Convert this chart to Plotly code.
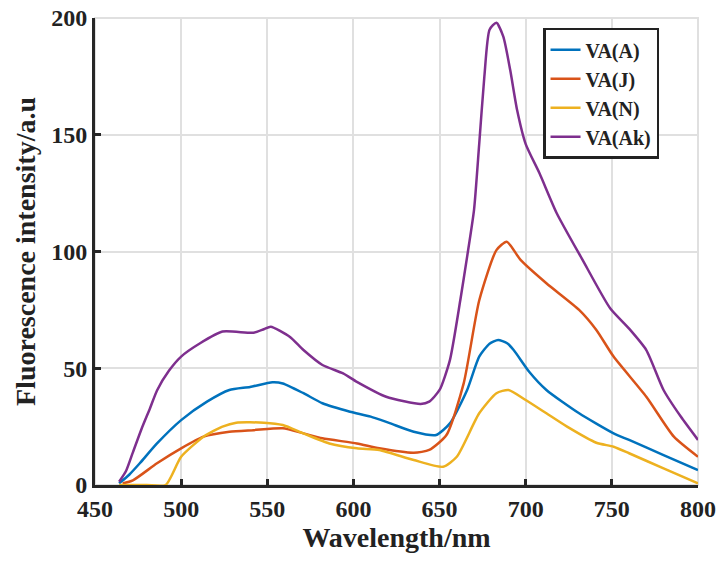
import plotly.graph_objects as go

# Wavelength (nm) / intensity (a.u.)
wl_A = [464, 470, 476, 486, 500, 515, 528, 540, 553, 559, 571, 582, 598, 610, 621, 635, 648, 656, 666, 673, 679, 684, 689, 693, 702, 712, 731, 751, 760, 780, 800]
va_A = [0.7, 4.5, 9.3, 17.8, 27.8, 35.7, 40.7, 42.0, 44.0, 43.5, 39.3, 35.0, 31.4, 29.3, 26.5, 22.8, 21.4, 26.4, 40.7, 55.0, 60.5, 62.1, 60.8, 57.8, 48.5, 40.7, 30.7, 22.1, 19.3, 12.8, 6.4]

wl_J = [466, 472, 486, 500, 513, 528, 542, 559, 571, 582, 602, 615, 635, 644, 654, 664, 673, 683, 689, 697, 712, 731, 741, 751, 770, 786, 800]
va_J = [0.7, 2.0, 9.3, 15.7, 20.7, 22.8, 23.5, 24.3, 22.1, 20.0, 17.8, 15.7, 13.8, 15.0, 21.4, 43.5, 79.0, 100.6, 104.2, 96.4, 86.4, 75.0, 66.4, 55.0, 37.8, 20.7, 12.1]

wl_N = [464, 480, 491, 500, 513, 524, 532, 548, 559, 571, 586, 602, 615, 635, 652, 660, 673, 683, 690, 700, 712, 724, 741, 751, 760, 780, 800]
va_N = [0.0, 0.0, 0.0, 12.1, 20.7, 25.0, 26.7, 26.7, 25.7, 22.1, 17.8, 15.7, 15.0, 10.7, 7.8, 12.1, 30.7, 39.3, 40.7, 36.4, 30.7, 25.0, 18.1, 16.4, 13.6, 7.1, 0.7]

wl_Ak = [464, 468, 472, 477, 482, 486, 493, 500, 511, 524, 542, 548, 552, 563, 571, 582, 594, 602, 619, 639, 644, 650, 656, 662, 666, 670, 673, 676, 679, 683, 687, 691, 695, 700, 708, 718, 733, 749, 760, 770, 780, 790, 800]
va_Ak = [1.4, 6.0, 14.0, 24.0, 33.0, 40.5, 49.0, 55.0, 60.7, 65.7, 65.2, 66.7, 67.8, 63.5, 57.8, 51.4, 47.8, 44.2, 37.8, 34.7, 35.7, 40.7, 53.5, 79.0, 97.8, 117.8, 146.0, 175.0, 195.0, 198.0, 192.0, 177.7, 160.6, 146.0, 133.5, 116.4, 96.4, 75.7, 67.0, 57.8, 40.7, 29.3, 19.3]

names = ["VA(A)", "VA(J)", "VA(N)", "VA(Ak)"]
colors = ["#0072BD", "#D95319", "#EDB120", "#7E2F8E"]
xticks = [450, 500, 550, 600, 650, 700, 750, 800]
yticks = [0, 50, 100, 150, 200]

fig = go.Figure()
for x, y, n, c in zip([wl_A, wl_J, wl_N, wl_Ak], [va_A, va_J, va_N, va_Ak], names, colors):
    fig.add_trace(go.Scatter(x=x, y=y, mode="lines", name=n,
                             line=dict(color=c, width=2.5, shape="spline", smoothing=0.6)))

font_family = "Liberation Serif, Times New Roman, serif"
txt = "#222222"
fig.update_layout(
    width=723, height=565,
    margin=dict(l=95, r=25, t=18, b=80, autoexpand=False),
    paper_bgcolor="white", plot_bgcolor="white",
    font=dict(family=font_family, color=txt),
    showlegend=True,
    legend=dict(x=0.743, y=0.979, xanchor="left", yanchor="top",
                bordercolor="#222222", borderwidth=2.5, bgcolor="white",
                font=dict(family=font_family, size=20, color=txt, weight="bold"),
                tracegroupgap=0, entrywidth=110, entrywidthmode="pixels"),
)
fig.update_xaxes(range=[450, 800], tickvals=xticks, ticktext=[str(v) for v in xticks],
                 automargin=False,
                 showgrid=True, gridcolor="#E0E0E0", gridwidth=2,
                 showline=True, linecolor="#262626", linewidth=3,
                 ticks="inside", ticklen=6, tickwidth=2.5, tickcolor="#262626",
                 tickfont=dict(size=24, weight="bold", family=font_family, color=txt),
                 title=dict(text="Wavelength/nm", standoff=4,
                            font=dict(size=28, weight="bold", family=font_family, color=txt)),
                 zeroline=False)
fig.update_yaxes(range=[0, 200], tickvals=yticks, ticktext=[str(v) for v in yticks],
                 automargin=False,
                 showgrid=True, gridcolor="#E0E0E0", gridwidth=2,
                 showline=True, linecolor="#262626", linewidth=3,
                 ticks="inside", ticklen=6, tickwidth=2.5, tickcolor="#262626",
                 tickfont=dict(size=24, weight="bold", family=font_family, color=txt),
                 title=dict(text="Fluorescence intensity/a.u", standoff=8,
                            font=dict(size=28, weight="bold", family=font_family, color=txt)),
                 zeroline=False)
fig.add_shape(type="rect", xref="paper", yref="paper", x0=0, y0=0, x1=1, y1=1,
              line=dict(color="#E0E0E0", width=2), layer="below")

fig.write_html("out.html")
